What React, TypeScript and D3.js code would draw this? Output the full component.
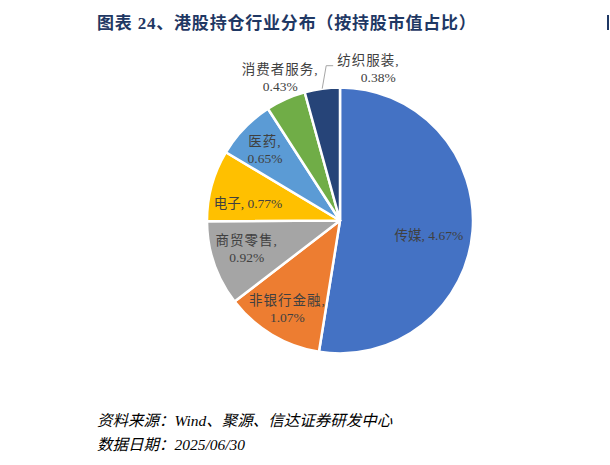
import React from 'react';
import { arc, pie, scaleOrdinal, PieArcDatum } from 'd3';

// industries, in drawing order (clockwise from 12 o'clock)
const industries = ['传媒', '非银行金融', '商贸零售', '电子', '医药', '消费者服务', '纺织服装'];
// share of holdings, %
const shares = [4.67, 1.07, 0.92, 0.77, 0.65, 0.43, 0.38];
const colors = ['#4472C4', '#ED7D31', '#A5A5A5', '#FFC000', '#5B9BD5', '#70AD47', '#264478'];

// label layout: how the label is split, where it sits (inside / outside) and a nudge
const labelBreak = [false, true, true, false, true, true, true];
const labelOutside = [false, false, false, false, false, true, true];
const labelNudge: [number, number][] = [
  [0, 8], [-7, 12], [-9, 0], [-6, 6], [-11, -9], [0, -9], [0, 0],
];

const W = 610;
const H = 465;
const cx = 340;
const cy = 220.5;
const R = 133;

const title = '图表 24、港股持仓行业分布（按持股市值占比）';
const source = '资料来源：Wind、聚源、信达证券研发中心';
const dateLine = '数据日期：2025/06/30';

type Row = { name: string; value: number };
const rows: Row[] = industries.map((name, i) => ({ name, value: shares[i] }));

const labelFont = "'Liberation Serif', 'Noto Sans CJK SC', serif";
const fs = 13.5;

const App = () => {
  const color = scaleOrdinal<string, string>().domain(industries).range(colors);
  const slices = pie<Row>().value(d => d.value).sort(null)(rows);
  const arcGen = arc<PieArcDatum<Row>>().innerRadius(0).outerRadius(R);
  const inner = arc<PieArcDatum<Row>>().innerRadius(R * 0.67).outerRadius(R * 0.67);
  const outer = arc<PieArcDatum<Row>>().innerRadius(R * 1.1).outerRadius(R * 1.1);
  const edge = arc<PieArcDatum<Row>>().innerRadius(R).outerRadius(R);

  return (
    <svg width={W} height={H} style={{ position: 'absolute', left: 0, top: 0, background: '#fff' }}>
      <text x={97} y={29} fontSize={17} fontWeight="bold" fill="#1F3864"
        fontFamily={labelFont} letterSpacing={0.8}>{title}</text>
      {/* edge of the next page column, cut by the frame */}
      <rect x={607} y={15} width={2} height={15} fill="#1F3864" />

      <g transform={`translate(${cx},${cy})`}>
        {slices.map(s => (
          <path key={s.data.name} d={arcGen(s) ?? ''} fill={color(s.data.name)}
            stroke="#fff" strokeWidth={2.5} strokeLinejoin="round" />
        ))}
        {slices.map((s, i) => {
          const [bx, by] = labelOutside[i] ? outer.centroid(s) : inner.centroid(s);
          const pct = `${s.data.value.toFixed(2)}%`;
          const last = i === slices.length - 1;
          if (last) {
            // leader line for the thinnest slice
            const [ex, ey] = edge.centroid(s);
            const kx = ex + 4;
            const ky = ey - 23;
            const tx = kx + 11;
            return (
              <g key={s.data.name}>
                <polyline points={`${ex},${ey} ${kx},${ky} ${kx + 7},${ky}`} fill="none"
                  stroke="#A6A6A6" strokeWidth={1} />
                <text x={tx} y={ky - 5} fontSize={fs} fill="#404040" fontFamily={labelFont}
                  dominantBaseline="central" letterSpacing={1}>{`${s.data.name},`}</text>
                <text x={tx + 41} y={ky + 12} fontSize={fs} fill="#404040" fontFamily={labelFont}
                  textAnchor="middle" dominantBaseline="central">{pct}</text>
              </g>
            );
          }
          const x = bx + labelNudge[i][0];
          const y = by + labelNudge[i][1];
          return labelBreak[i] ? (
            <g key={s.data.name}>
              <text x={x} y={y - 8.5} fontSize={fs} fill="#404040" fontFamily={labelFont}
                textAnchor="middle" dominantBaseline="central" letterSpacing={1}>{`${s.data.name},`}</text>
              <text x={x} y={y + 8.5} fontSize={fs} fill="#404040" fontFamily={labelFont}
                textAnchor="middle" dominantBaseline="central">{pct}</text>
            </g>
          ) : (
            <text key={s.data.name} x={x} y={y} fontSize={fs} fill="#404040" fontFamily={labelFont}
              textAnchor="middle" dominantBaseline="central">{`${s.data.name}, ${pct}`}</text>
          );
        })}
      </g>

      <text x={97} y={426} fontSize={15.5} fontStyle="italic" fill="#000" fontFamily={labelFont}>{source}</text>
      <text x={97} y={450} fontSize={15.5} fontStyle="italic" fill="#000" fontFamily={labelFont}>{dateLine}</text>
    </svg>
  );
};

export default App;
